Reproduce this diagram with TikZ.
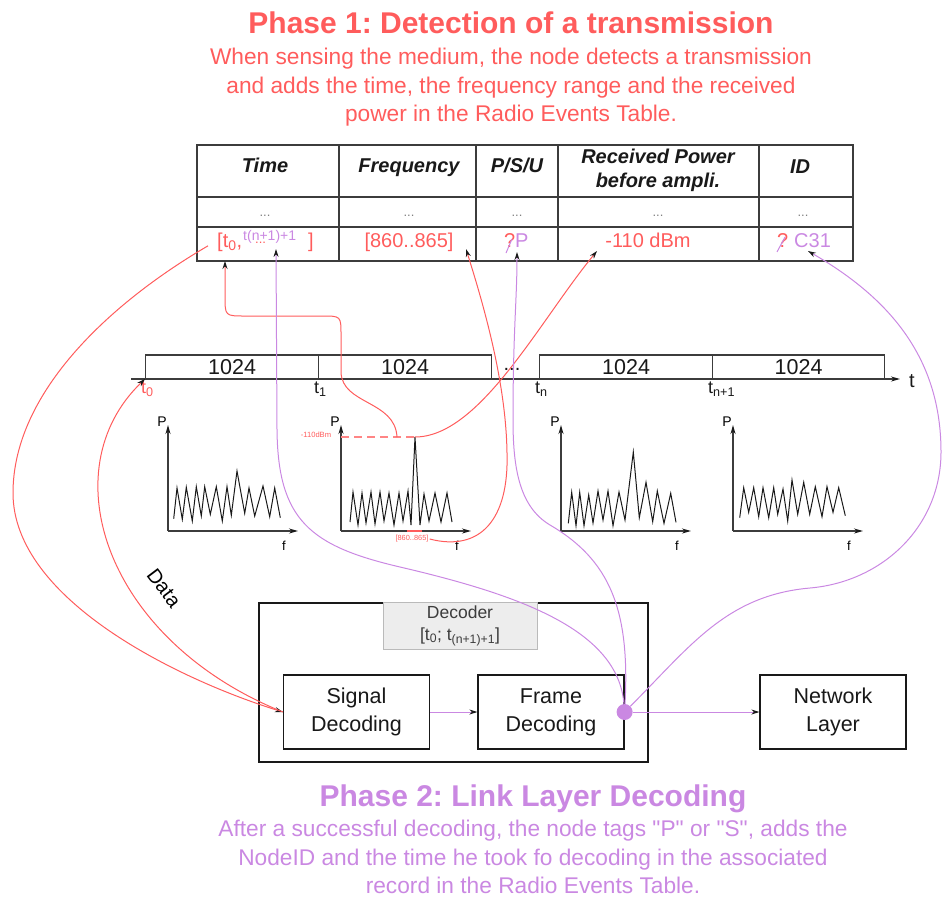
\documentclass[tikz,border=0pt]{standalone}
\usepackage{fontspec}
\setmainfont{Liberation Sans}[Ligatures=TeXOff]
\frenchspacing
\usetikzlibrary{arrows.meta,positioning,calc}
\definecolor{coral}{RGB}{255,92,92}
\definecolor{lilac}{RGB}{202,136,226}
\definecolor{ink}{RGB}{25,25,25}
\definecolor{rim}{RGB}{60,60,60}
\definecolor{shade}{RGB}{237,237,237}
\newcommand{\fsz}[2]{\fontsize{#1}{#2}\selectfont}
\tikzset{
  grid/.style    = {draw=rim, line width=1.3pt},
  head/.style    = {anchor=base, inner sep=0pt, align=center, text=ink,
                    font=\fsz{20}{24}\bfseries\itshape},
  cell/.style    = {anchor=base, inner sep=0pt, font=\fsz{20}{24}},
  dots/.style    = {anchor=base, inner sep=0pt, text=ink!55, font=\fsz{13}{15}},
  slot/.style    = {draw=rim, line width=1.2pt, minimum height=23.5pt, inner sep=0pt,
                    text=ink, font=\fsz{21.5}{24}, anchor=south west},
  tlab/.style    = {inner sep=0pt, text=ink, font=\fsz{18}{20}},
  block/.style   = {draw=ink, line width=1.2pt, fill=white, align=center, text=ink,
                    minimum width=146pt, minimum height=74pt, font=\fsz{21.5}{28}},
  axis/.style    = {draw=rim, line width=1.3pt, -{Stealth[length=9pt,width=5pt,color=ink]}},
  noise/.style   = {draw=ink, line width=1pt},
  redlink/.style = {draw=coral, line width=1pt, -{Stealth[length=8pt,width=5pt,color=ink]}},
  purplink/.style= {draw=lilac, line width=1pt, -{Stealth[length=8pt,width=5pt,color=ink]}},
}

\begin{document}
\begin{tikzpicture}[x=1pt, y=1pt]
\useasboundingbox (0,0) rectangle (944,-897);

% phase 1 text
\node[anchor=base, inner sep=0, text=coral, font=\fsz{30}{34}\bfseries] (ph1) at (511,-33)
  {Phase 1: Detection of a transmission};
\node[anchor=north, inner sep=0, text=coral, align=center, font=\fsz{22.7}{28.5}] (ph1txt) at (511,-48)
  {When sensing the medium, the node detects a transmission\\
   and adds the time, the frequency range and the received\\
   power in the Radio Events Table.};

% radio events table
\draw[grid] (197,-145) rectangle (853,-261);
\draw[grid] (197,-197) -- (853,-197);
\draw[grid] (197,-227) -- (853,-227);
\foreach \x in {339,476,558,759}
  \draw[grid] (\x,-145) -- (\x,-261);

\node[head] (hTime) at (265,-172) {Time};
\node[head] (hFreq) at (409,-172) {Frequency};
\node[head] (hPSU) at (517,-172) {P/S/U};
\node[head, anchor=center] (hPow) at (658,-170) {Received Power\\before ampli.};
\node[head] (hID) at (800,-173) {ID};

\foreach \x [count=\i] in {265,409,517,658,803}
  \node[dots] (d\i) at (\x,-216) {...};

\node[cell, anchor=base west, text=coral] (tmA) at (217,-247) {[t\textsubscript{0},};
\node[cell, anchor=base west, text=lilac, font=\fsz{14}{16}] (tmB) at (243,-240) {t(n+1)+1};
\node[cell, anchor=base west, text=coral, font=\fsz{13}{15}] (tmC) at (255,-243) {...};
\node[cell, anchor=base west, text=coral] (tmD) at (308,-247) {]};
\node[cell, text=coral] (fq) at (409,-247) {[860..865]};
\node[cell, anchor=base west, text=coral] (psuQ) at (504,-247) {?};
\node[cell, anchor=base west, text=lilac] (psuP) at (515,-247) {P};
\draw[lilac, line width=1pt] (506,-253) -- (512,-239);
\node[cell, text=coral] (pw) at (648,-247) {-110 dBm};
\node[cell, anchor=base west, text=coral] (idQ) at (777,-247) {?};
\node[cell, anchor=base west, text=lilac] (idC) at (794,-247) {C31};
\draw[lilac, line width=1pt] (777,-252) -- (785,-237);

\coordinate (tmIn) at (225,-261);
\coordinate (tmEnd) at (276,-249);
\coordinate (fqIn) at (466,-249);
\coordinate (psuIn) at (517,-252);
\coordinate (pwIn) at (597,-251);
\coordinate (idIn) at (808,-251);

% time line
\foreach \n/\a/\b in {1/145/318, 2/318/491, 3/539/712, 4/712/884}
  \node[slot, minimum width={\b-\a}] (b\n) at (\a,-379) {1024};
\draw[axis] (131,-379) -- (900,-379);
\node[tlab, font=\fsz{20}{22}] (tax) at (912,-381) {t};
\node[tlab, font=\fsz{20}{22}] (gap) at (512,-369) {...};
\node[tlab, text=coral, below right=3pt and -4pt of b1.south west] (t0) {t\textsubscript{0}};
\node[tlab, below right=3pt and -4pt of b2.south west] (t1) {t\textsubscript{1}};
\node[tlab, below right=3pt and -4pt of b3.south west] (tn) {t\textsubscript{n}};
\node[tlab, below right=3pt and -4pt of b4.south west] (tn1) {t\textsubscript{n+1}};

% spectra
\foreach \x [count=\i] in {168,341,561,733} {
  \draw[axis] (\x,-531) -- (\x,-425);
  \draw[axis] (\x,-531) -- ({\x+130},-531);
  \node[inner sep=0, font=\fsz{14}{16}] (P\i) at ({\x-6},-422) {P};
  \node[inner sep=0, font=\fsz{13}{15}] (f\i) at ({\x+116},-546) {f};
}
\draw[noise, shift={(168,-531)}] plot coordinates {(5.7,12.3) (9,43) (14.3,11.7) (18.3,43.7)
  (24.3,10) (28.3,44.3) (33.3,15) (36.7,44.3) (42.3,16.7) (48.3,44.3) (54.3,10) (59,44.3)
  (63.3,15.7) (69,60) (76.7,17.7) (81,43) (86.7,15) (95,45) (101.7,14.3) (106.7,43) (112.3,13.3)};
\draw[noise, shift={(341,-531)}] plot coordinates {(9,9) (12,39) (17,6) (21,38) (25,8) (30,39)
  (34,7) (39,39) (43,10) (48,38) (53,6) (58,38) (62,10) (67,40) (70,6) (74,94) (79,6) (83,37)
  (88,10) (94,38) (100,9) (106,38) (111,9)};
\draw[noise, shift={(561,-531)}] plot coordinates {(7.3,7.7) (10.7,38.7) (15,5.3) (18.7,38.7)
  (23,5.3) (27.7,36) (32,8) (37,40) (42,11) (47,40) (52,5.3) (58,39) (64,11) (72.3,79)
  (78.3,13.3) (85,48.7) (91.7,9.3) (96.3,40) (103,7.7) (109.7,37.7) (115,8.7)};
\draw[noise, shift={(733,-531)}] plot coordinates {(6.7,13.3) (10.7,43.3) (15.7,18.7) (20.7,43.3)
  (25.7,14.3) (30,43.3) (35.7,13.3) (40.7,43.3) (44.7,16.7) (50,42) (54.7,10) (59,51)
  (64.7,16.7) (70.7,48.7) (76.7,16.7) (82.3,44.3) (89,14.3) (94,44.3) (100,18.7) (105.7,43.3)
  (112.3,15.3)};

\coordinate (pk) at (415,-437);
\coordinate (dl) at (397,-437);
\draw[coral!75, line width=1.5pt, dash pattern=on 8pt off 5pt] (341,-437) -- (pk);
\draw[coral, line width=2pt] (407,-531) -- (422,-531);
\node[inner sep=1pt, text=coral, font=\fsz{7.6}{9}] (lvl) at (316,-435) {-110dBm};
\node[inner sep=1pt, text=coral, font=\fsz{7.4}{9}] (band) at (412,-539) {[860..865]};

% decoder
\node[draw=ink, line width=1.2pt, minimum width=389pt, minimum height=159pt, inner sep=0] (dec) at (453.5,-682.5) {};
\node[draw=ink!30, fill=shade, line width=1pt, minimum width=154pt, minimum height=47pt, inner sep=0,
      align=center, text=rim, font=\fsz{17.5}{22}] (declab) at (460,-625.5)
  {Decoder\\{}[t\textsubscript{0}; t\textsubscript{(n+1)+1}]};
\node[block] (sig) at (356.5,-712) {Signal\\Decoding};
\node[block] (frm) at (551,-712) {Frame\\Decoding};
\node[block] (net) at (833,-712) {Network\\Layer};
\node[circle, fill=lilac, minimum size=16pt, inner sep=0] (hub) at (frm.east) {};

\draw[purplink] (sig.east) -- (frm.west);
\draw[purplink] (hub) -- (net.west);

% red: phase 1 links
\draw[redlink] ($(tmA.west)+(-9,-4)$) .. controls (115,-300) and (13,-390) .. (13,-493)
  .. controls (13,-600) and (180,-680) .. (sig.west);
\draw[redlink] (sig.west) .. controls (105,-640) and (50,-470) .. (b1.south west);
\node[font=\fsz{20}{22}, rotate=-53] (datalab) at (164,-588) {Data};
\draw[redlink] (dl) .. controls (395,-400) and (342,-405) .. (341,-372) -- (341,-335)
  .. controls (341,-316) .. (322,-316) -- (245,-316) .. controls (225,-316) .. (225,-296) -- (tmIn);
\draw[redlink] (band.east) .. controls (480,-552) and (509,-520) .. (507,-453)
  .. controls (506,-380) and (482,-300) .. (fqIn);
\draw[redlink] (pk) .. controls (480,-437) and (540,-320) .. (pwIn);

% purple: phase 2 links
\draw[purplink] (hub) .. controls (618,-630) and (520,-595) .. (400,-567)
  .. controls (310,-546) and (278,-520) .. (277,-430) -- (tmEnd);
\draw[purplink] (hub) .. controls (630,-610) and (610,-560) .. (550,-525)
  .. controls (520,-507) and (513,-470) .. (513,-420) .. controls (513,-330) and (517,-300) .. (psuIn);
\draw[purplink] (hub) to[out=45,in=185] (810,-588) to[out=5,in=-90] (941,-452)
  to[out=90,in=-30] (idIn);

% phase 2 text
\node[anchor=base, inner sep=0, text=lilac, font=\fsz{30}{34}\bfseries] (ph2) at (533,-806)
  {Phase 2: Link Layer Decoding};
\node[anchor=north, inner sep=0, text=lilac, align=center, font=\fsz{22.7}{28.5}] (ph2txt) at (533,-820)
  {After a successful decoding, the node tags "P" or "S", adds the\\
   NodeID and the time he took fo decoding in the associated\\
   record in the Radio Events Table.};
\end{tikzpicture}
\end{document}
